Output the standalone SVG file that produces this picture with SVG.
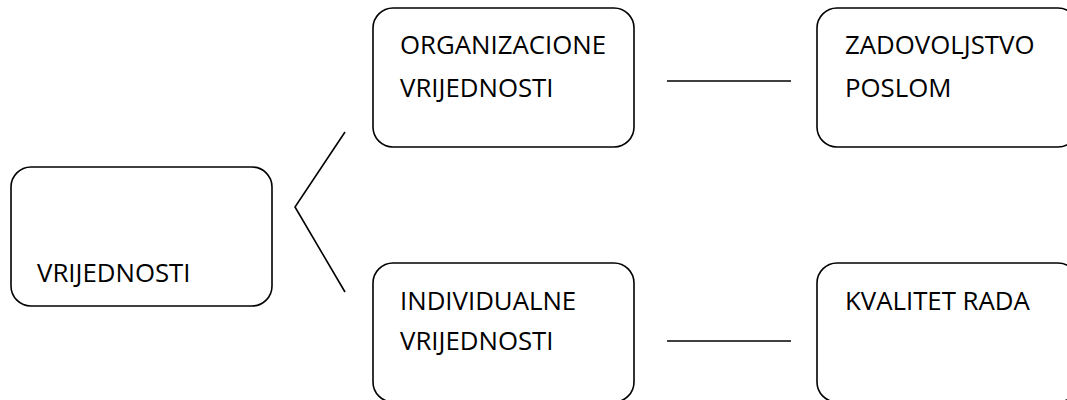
<svg xmlns="http://www.w3.org/2000/svg" width="1067" height="400" viewBox="0 0 1067 400">
<style>
.box{fill:#fff;stroke:#000;stroke-width:1.6}
.t{font-family:"Open Sans","Liberation Sans",sans-serif;font-size:25.8px;fill:#000}
.c{fill:none;stroke:#000;stroke-width:1.6}
</style>
<rect width="1067" height="400" fill="#fff"/>
<g id="connectors">
<polyline class="c" points="345,132 295,207 345,292"/>
<line class="c" x1="667" y1="81" x2="791" y2="81"/>
<line class="c" x1="667" y1="341" x2="791" y2="341"/>
</g>
<g id="vrijednosti">
<rect class="box" x="11" y="167" width="261" height="139" rx="20"/>
<text class="t" x="37" y="282">VRIJEDNOSTI</text>
</g>
<g id="organizacione">
<rect class="box" x="373" y="8" width="261" height="139" rx="20"/>
<text class="t" x="400" y="54">ORGANIZACIONE</text>
<text class="t" x="400" y="97">VRIJEDNOSTI</text>
</g>
<g id="zadovoljstvo">
<rect class="box" x="817" y="8" width="261" height="139" rx="20"/>
<text class="t" x="845" y="54">ZADOVOLJSTVO</text>
<text class="t" x="845" y="97">POSLOM</text>
</g>
<g id="individualne">
<rect class="box" x="373" y="263" width="261" height="139" rx="20"/>
<text class="t" x="400" y="310">INDIVIDUALNE</text>
<text class="t" x="400" y="350">VRIJEDNOSTI</text>
</g>
<g id="kvalitet">
<rect class="box" x="817" y="263" width="261" height="139" rx="20"/>
<text class="t" x="845" y="310">KVALITET RADA</text>
</g>
</svg>
